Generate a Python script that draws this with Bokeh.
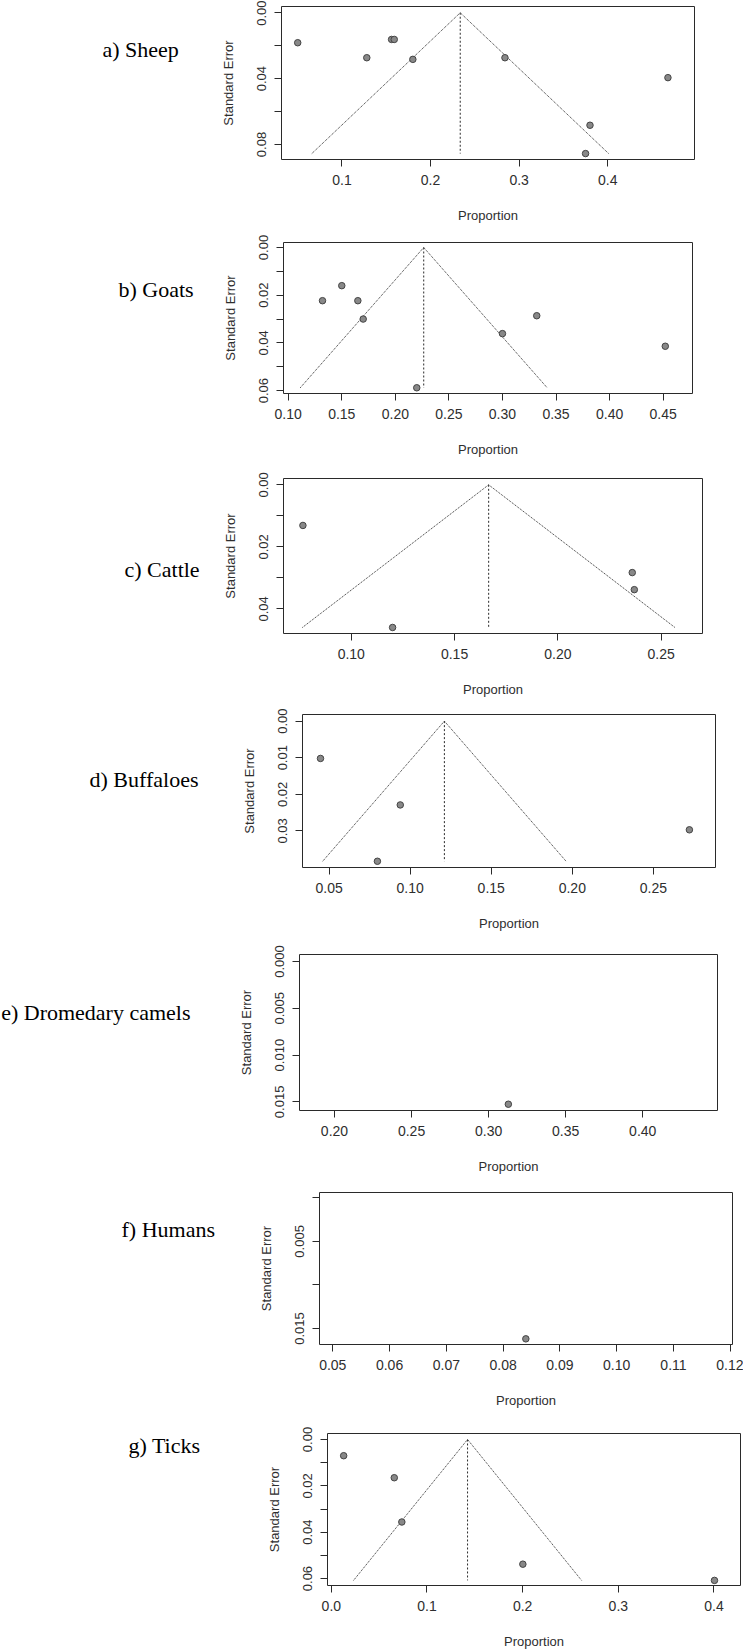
from bokeh.plotting import figure
from bokeh.models import Range1d, FixedTicker, PrintfTickFormatter
from bokeh.layouts import column, row
from bokeh.core.properties import value
from bokeh.embed import file_html
from bokeh.resources import INLINE

# ---- study-level prevalence estimates and their standard errors ----
sheep_prop = [0.050, 0.128, 0.156, 0.159, 0.180, 0.284, 0.468, 0.380, 0.375]
sheep_se = [0.0182, 0.0273, 0.0162, 0.0162, 0.0283, 0.0273, 0.0394, 0.0683, 0.0855]
sheep_pooled = 0.2335

goats_prop = [0.132, 0.150, 0.165, 0.170, 0.220, 0.300, 0.332, 0.452]
goats_se = [0.0223, 0.0160, 0.0223, 0.0300, 0.0588, 0.0361, 0.0286, 0.0414]
goats_pooled = 0.2265

cattle_prop = [0.0766, 0.120, 0.236, 0.237]
cattle_se = [0.0131, 0.0460, 0.0283, 0.0338]
cattle_pooled = 0.1665

buffalo_prop = [0.0447, 0.0939, 0.0798, 0.2722]
buffalo_se = [0.0102, 0.0229, 0.0383, 0.0297]
buffalo_pooled = 0.1211

camel_prop = [0.3128]
camel_se = [0.01525]

human_prop = [0.0840]
human_se = [0.01618]

tick_prop = [0.0129, 0.0658, 0.0737, 0.2002, 0.4005]
tick_se = [0.0070, 0.0165, 0.0356, 0.0538, 0.0608]
tick_pooled = 0.1424

panel_titles = ["a) Sheep", "b) Goats", "c) Cattle", "d) Buffaloes",
                "e) Dromedary camels", "f) Humans", "g) Ticks"]

# axis tick values
sheep_xticks = [0.1, 0.2, 0.3, 0.4]
goats_xticks = [0.10, 0.15, 0.20, 0.25, 0.30, 0.35, 0.40, 0.45]
cattle_xticks = [0.10, 0.15, 0.20, 0.25]
buffalo_xticks = [0.05, 0.10, 0.15, 0.20, 0.25]
camel_xticks = [0.20, 0.25, 0.30, 0.35, 0.40]
human_xticks = [0.05, 0.06, 0.07, 0.08, 0.09, 0.10, 0.11, 0.12]
tick_xticks = [0.0, 0.1, 0.2, 0.3, 0.4]

Z = 1.96
AXIS_FONT = "Liberation Sans"
TEXT_COLOR = "#2e2e2e"
LINE_COLOR = "#2a2a2a"

panels = [
    dict(title=panel_titles[0], prop=sheep_prop, se=sheep_se, pooled=sheep_pooled,
         xr=(0.0317, 0.498), yr=(0.0891, -0.0038),
         xt=sheep_xticks, xfmt="%.1f",
         yt=[0.0, 0.04, 0.08], ymt=[0.02, 0.06], yfmt="%.2f",
         H=226, lw=200, frame=(281, 694, 6, 159), lab=(102, 49, "left")),
    dict(title=panel_titles[1], prop=goats_prop, se=goats_se, pooled=goats_pooled,
         xr=(0.0956, 0.4774), yr=(0.0612, -0.00209),
         xt=goats_xticks, xfmt="%.2f",
         yt=[0.0, 0.02, 0.04, 0.06], ymt=[0.01, 0.03, 0.05], yfmt="%.2f",
         H=233, lw=200, frame=(283, 692, 16, 167), lab=(118, 63, "left")),
    dict(title=panel_titles[2], prop=cattle_prop, se=cattle_se, pooled=cattle_pooled,
         xr=(0.0672, 0.2700), yr=(0.04794, -0.00204),
         xt=cattle_xticks, xfmt="%.2f",
         yt=[0.0, 0.02, 0.04], ymt=[0.01, 0.03], yfmt="%.2f",
         H=240, lw=205, frame=(283, 702, 19, 174), lab=(124, 110, "left")),
    dict(title=panel_titles[3], prop=buffalo_prop, se=buffalo_se, pooled=buffalo_pooled,
         xr=(0.0336, 0.2883), yr=(0.0400, -0.00181),
         xt=buffalo_xticks, xfmt="%.2f",
         yt=[0.0, 0.01, 0.02, 0.03], ymt=[], yfmt="%.2f",
         H=236, lw=205, frame=(302, 715, 15, 168), lab=(89, 80, "left")),
    dict(title=panel_titles[4], prop=camel_prop, se=camel_se, pooled=None,
         xr=(0.1773, 0.4485), yr=(0.01592, -0.00075),
         xt=camel_xticks, xfmt="%.2f",
         yt=[0.0, 0.005, 0.010, 0.015], ymt=[], yfmt="%.3f",
         H=241, lw=200, frame=(299, 717, 19, 175), lab=(190, 77, "right")),
    dict(title=panel_titles[5], prop=human_prop, se=human_se, pooled=None,
         xr=(0.04766, 0.1204), yr=(0.01683, -0.00061),
         xt=human_xticks, xfmt="%.2f",
         yt=[0.005, 0.015], ymt=[0.0, 0.010], yfmt="%.3f",
         H=237, lw=225, frame=(319, 732, 16, 168), lab=(121, 53, "left")),
    dict(title=panel_titles[6], prop=tick_prop, se=tick_se, pooled=tick_pooled,
         xr=(-0.004, 0.4277), yr=(0.063, -0.00258),
         xt=tick_xticks, xfmt="%.1f",
         yt=[0.0, 0.02, 0.04, 0.06], ymt=[0.01, 0.03, 0.05], yfmt="%.2f",
         H=238, lw=210, frame=(327, 740, 20, 173), lab=(128, 32, "left")),
]


def title_figure(spec):
    # The row lines this frame up with the funnel plot's frame, so the y range
    # spans the frame's pixel rows (measured from the top of the row).
    lw, H = spec["lw"], spec["H"]
    top, bottom = spec["frame"][2], spec["frame"][3]
    f = figure(width=lw, height=H, x_range=Range1d(0, lw),
               y_range=Range1d(bottom, top),
               output_backend="svg", toolbar_location=None,
               x_axis_type=None, y_axis_type=None, min_border=0)
    f.outline_line_color = None
    f.grid.visible = False
    lx, ly, align = spec["lab"]
    f.text(x=[lx], y=[ly], text=[spec["title"]], text_font=value("Liberation Serif"),
           text_font_size="22px", text_baseline="alphabetic", text_align=align,
           text_color="black")
    return f


def funnel_figure(spec):
    lw, H = spec["lw"], spec["H"]
    left, right, top, bottom = spec["frame"]
    W = 743 - lw
    p = figure(width=W, height=H,
               x_range=Range1d(*spec["xr"]), y_range=Range1d(*spec["yr"]),
               output_backend="svg", toolbar_location=None,
               min_border_left=left - lw, min_border_right=743 - right,
               min_border_top=top, min_border_bottom=H - bottom)
    p.grid.visible = False
    p.outline_line_color = LINE_COLOR
    p.outline_line_width = 1

    # funnel: pseudo 95% limits around the pooled estimate, plus reference line
    if spec["pooled"] is not None:
        c = spec["pooled"]
        se_max = max(spec["se"])
        p.line([c - Z * se_max, c, c + Z * se_max], [se_max, 0.0, se_max],
               line_color=LINE_COLOR, line_width=1, line_dash="1 1")
        p.line([c, c], [0.0, se_max], line_color=LINE_COLOR, line_width=1,
               line_dash="2 2")

    p.scatter(spec["prop"], spec["se"], size=6.5, fill_color="#888888",
              line_color="#444444", line_width=1)

    for ax in (p.xaxis[0], p.yaxis[0]):
        ax.axis_line_color = None
        ax.major_tick_in = 0
        ax.major_tick_out = 7
        ax.major_tick_line_color = LINE_COLOR
        ax.major_label_text_font = AXIS_FONT
        ax.major_label_text_color = TEXT_COLOR
        ax.axis_label_text_font = AXIS_FONT
        ax.axis_label_text_font_size = "13px"
        ax.axis_label_text_font_style = "normal"
        ax.axis_label_text_color = TEXT_COLOR

    xa = p.xaxis[0]
    xa.ticker = FixedTicker(ticks=spec["xt"], minor_ticks=[])
    xa.formatter = PrintfTickFormatter(format=spec["xfmt"])
    xa.minor_tick_line_color = None
    xa.major_label_text_font_size = "14px"
    xa.major_label_standoff = 8
    xa.axis_label = "Proportion"
    xa.axis_label_standoff = 20

    ya = p.yaxis[0]
    ya.ticker = FixedTicker(ticks=spec["yt"], minor_ticks=spec["ymt"])
    ya.formatter = PrintfTickFormatter(format=spec["yfmt"])
    ya.minor_tick_in = 0
    ya.minor_tick_out = 7
    ya.minor_tick_line_color = LINE_COLOR
    ya.major_label_text_font_size = "13px"
    ya.major_label_orientation = "vertical"
    ya.major_label_standoff = 8
    ya.axis_label = "Standard Error"
    ya.axis_label_standoff = 19
    return p


rows = [row(title_figure(s), funnel_figure(s)) for s in panels]
layout = column(*rows)

open("out.html", "w").write(file_html(layout, INLINE))
